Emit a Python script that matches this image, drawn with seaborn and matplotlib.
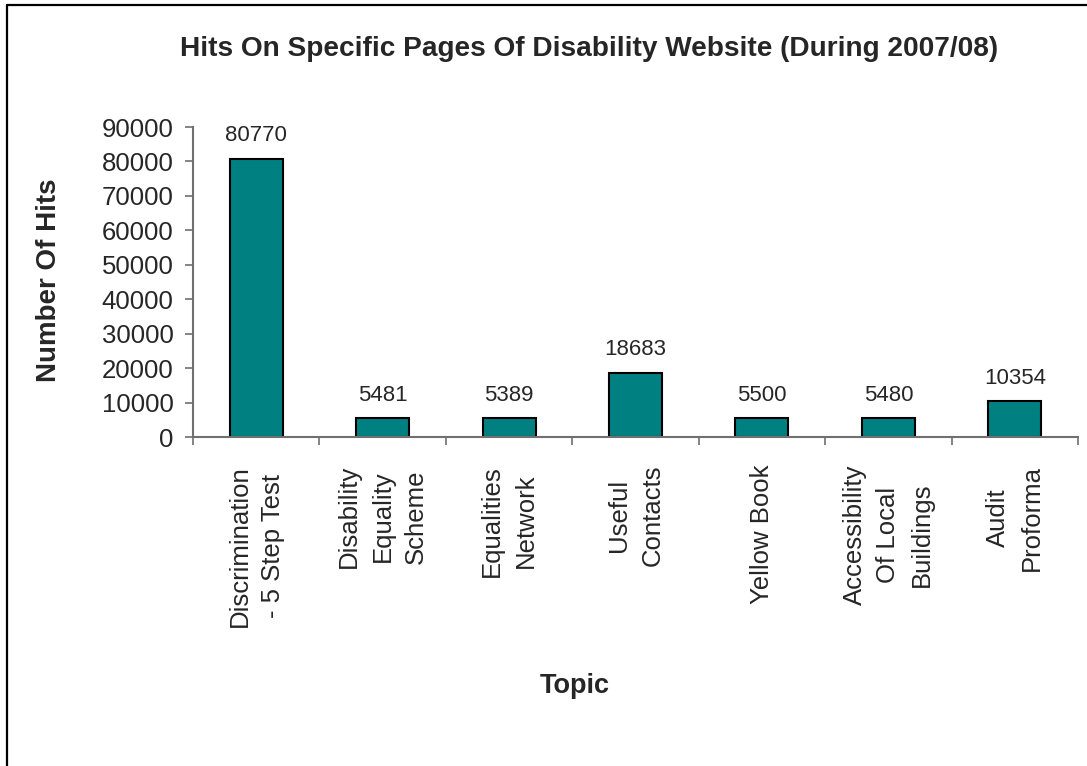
import matplotlib
matplotlib.use("Agg")
import matplotlib.pyplot as plt
import seaborn as sns
import pandas as pd
from matplotlib.lines import Line2D
from matplotlib.ticker import FixedLocator, MultipleLocator

topics = [
    "Discrimination\n- 5 Step Test",
    "Disability\nEquality\nScheme",
    "Equalities\nNetwork",
    "Useful\nContacts",
    "Yellow Book",
    "Accessibility\nOf Local\nBuildings",
    "Audit\nProforma",
]
hits = [80770, 5481, 5389, 18683, 5500, 5480, 10354]

title = "Hits On Specific Pages Of Disability Website (During 2007/08)"
x_label = "Topic"
y_label = "Number Of Hits"

sns.set_style("white")
plt.rcParams["font.family"] = ["Liberation Sans", "DejaVu Sans"]

df = pd.DataFrame({"topic": topics, "hits": hits})

W, H = 1087, 766
fig = plt.figure(figsize=(W / 100, H / 100), dpi=100)
fig.patch.set_facecolor("white")

# chart-area frame: only its top and left edges fall inside the canvas
frame_kw = dict(color="black", linewidth=1.6, transform=fig.transFigure)
fig.add_artist(Line2D([7 / W, 1.0], [1 - 5 / H, 1 - 5 / H], **frame_kw))
fig.add_artist(Line2D([7 / W, 7 / W], [0.0, 1 - 5 / H], **frame_kw))

ax = fig.add_axes([0.1776, 0.4295, 0.8141, 0.4047])
sns.barplot(data=df, x="topic", y="hits", color="#008080", saturation=1,
            width=0.42, edgecolor="black", linewidth=1.5, ax=ax)

ax.set_xlim(-0.5, len(topics) - 0.5)
ax.set_ylim(0, 90000)
ax.yaxis.set_major_locator(MultipleLocator(10000))

for side in ("top", "right"):
    ax.spines[side].set_visible(False)
for side in ("left", "bottom"):
    ax.spines[side].set_color("#707070")
    ax.spines[side].set_linewidth(1.5)

# category boundaries carry the visible ticks; labels sit on hidden majors
ax.xaxis.set_minor_locator(FixedLocator([i - 0.5 for i in range(len(topics) + 1)]))
ax.tick_params(axis="x", which="major", length=0, pad=20)
ax.tick_params(axis="x", which="minor", length=6, width=1.2, color="#707070",
               direction="out", bottom=True)
ax.tick_params(axis="y", which="major", length=6, width=1.2, color="#707070",
               direction="out", left=True, labelsize=18.5, pad=8)
ax.set_xticks(range(len(topics)))
ax.set_xticklabels(topics, rotation=90, va="top", ha="center",
                   multialignment="center", fontsize=18.5, linespacing=1.5)

ax.bar_label(ax.containers[0], labels=[str(v) for v in hits], padding=9,
             fontsize=16)

ax.set_xlabel("")
ax.set_ylabel("")
fig.text(589 / W, 1 - 49 / H, title, ha="center", va="center", fontsize=20.2,
         fontweight="bold")
fig.text(0.045, 0.634, y_label, ha="center", va="center", rotation=90,
         fontsize=20, fontweight="bold")
fig.text(0.529, 0.105, x_label, ha="center", va="center", fontsize=19.5,
         fontweight="bold")

fig.savefig("out.png", dpi=100, facecolor="white")
